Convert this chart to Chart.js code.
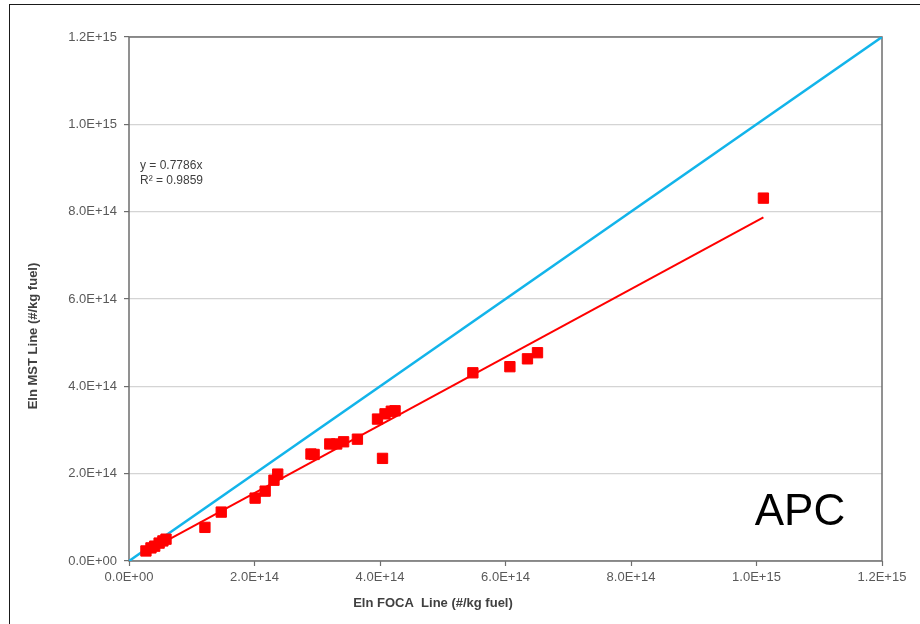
<!DOCTYPE html>
<html>
<head>
<meta charset="utf-8">
<script src="https://cdn.jsdelivr.net/npm/chart.js@4.4.1/dist/chart.umd.min.js"></script>
<style>
  html, body { margin: 0; padding: 0; background: #ffffff; }
  #wrap { width: 920px; height: 624px; position: relative; }
</style>
</head>
<body>
<div id="wrap"><canvas id="c" width="920" height="624"></canvas></div>
<script>
// Particle emission index: FOCA line (x) versus MST line (y), #/kg fuel
const focaLine = [
  0.27e14, 0.35e14, 0.41e14, 0.48e14, 0.54e14, 0.59e14,
  1.21e14, 1.47e14, 2.01e14, 2.17e14, 2.31e14, 2.37e14,
  2.90e14, 2.95e14, 3.20e14, 3.31e14, 3.42e14, 3.64e14,
  4.04e14, 3.96e14, 4.08e14, 4.18e14, 4.24e14,
  5.48e14, 6.07e14, 6.35e14, 6.51e14, 10.11e14
];
const mstLine = [
  0.23e14, 0.30e14, 0.34e14, 0.41e14, 0.46e14, 0.50e14,
  0.77e14, 1.12e14, 1.44e14, 1.60e14, 1.85e14, 1.99e14,
  2.45e14, 2.44e14, 2.68e14, 2.68e14, 2.73e14, 2.79e14,
  2.35e14, 3.25e14, 3.37e14, 3.43e14, 3.44e14,
  4.31e14, 4.45e14, 4.63e14, 4.77e14, 8.31e14
];

// Zero-intercept linear fit and its statistics
const fitSlope = 0.7786;
const fitR2 = 0.9859;

// Axis ticks
const xTickValues = [0, 2e14, 4e14, 6e14, 8e14, 10e14, 12e14];
const xTickLabels = ['0.0E+00', '2.0E+14', '4.0E+14', '6.0E+14', '8.0E+14', '1.0E+15', '1.2E+15'];
const yTickValues = [0, 2e14, 4e14, 6e14, 8e14, 10e14, 12e14];
const yTickLabels = ['0.0E+00', '2.0E+14', '4.0E+14', '6.0E+14', '8.0E+14', '1.0E+15', '1.2E+15'];

const axisMax = 1.2e15;
const xTitle = 'Eln FOCA  Line (#/kg fuel)';
const yTitle = 'Eln MST Line (#/kg fuel)';
const panelLabel = 'APC';

const scatterPoints = focaLine.map((x, i) => ({ x: x, y: mstLine[i] }));
const xMin = Math.min(...focaLine);
const xMax = Math.max(...focaLine);
const fitPoints = [
  { x: xMin, y: fitSlope * xMin },
  { x: xMax, y: fitSlope * xMax }
];
const identityPoints = [{ x: 0, y: 0 }, { x: axisMax, y: axisMax }];

const FONT = '"Liberation Sans", Arial, sans-serif';
const FRAME = '#6e6e6e';
const TICK_TEXT = '#595959';

const decorPlugin = {
  id: 'decor',
  beforeDraw(chart) {
    const ctx = chart.ctx;
    ctx.save();
    ctx.fillStyle = '#ffffff';
    ctx.fillRect(0, 0, chart.width, chart.height);
    // outer chart border (runs off the right and bottom edges)
    ctx.strokeStyle = '#1a1a1a';
    ctx.lineWidth = 1;
    ctx.strokeRect(9.5, 4.5, chart.width + 20, chart.height + 20);
    ctx.restore();
  },
  beforeDatasetsDraw(chart) {
    const ctx = chart.ctx;
    const a = chart.chartArea;
    ctx.save();
    ctx.strokeStyle = FRAME;
    ctx.lineWidth = 1.5;
    ctx.strokeRect(a.left, a.top, a.right - a.left, a.bottom - a.top);
    ctx.restore();
  },
  afterDraw(chart) {
    const ctx = chart.ctx;
    ctx.save();
    // axis titles
    ctx.fillStyle = '#404040';
    ctx.font = 'bold 13px ' + FONT;
    ctx.textAlign = 'center';
    ctx.textBaseline = 'middle';
    ctx.fillText(xTitle, 433, 603);
    ctx.save();
    ctx.translate(33, 336);
    ctx.rotate(-Math.PI / 2);
    ctx.fillText(yTitle, 0, 0);
    ctx.restore();
    // trendline equation
    ctx.fillStyle = '#404040';
    ctx.font = '12px ' + FONT;
    ctx.textAlign = 'left';
    ctx.fillText('y = ' + fitSlope.toFixed(4) + 'x', 140, 166);
    ctx.fillText('R\u00B2 = ' + fitR2.toFixed(4), 140, 181);
    // panel label
    ctx.fillStyle = '#000000';
    ctx.font = '44px ' + FONT;
    ctx.textAlign = 'center';
    ctx.textBaseline = 'alphabetic';
    ctx.fillText(panelLabel, 800, 525);
    ctx.restore();
  }
};

new Chart(document.getElementById('c'), {
  type: 'scatter',
  data: {
    datasets: [
      {
        label: 'Linear fit',
        type: 'line',
        data: fitPoints,
        borderColor: '#ff0000',
        borderWidth: 2,
        pointRadius: 0,
        fill: false,
        order: 0
      },
      {
        label: 'EI',
        data: scatterPoints,
        pointStyle: 'rect',
        pointRadius: 7.3,
        pointHoverRadius: 7.3,
        backgroundColor: '#ff0000',
        borderColor: '#ff0000',
        borderWidth: 1,
        order: 1
      },
      {
        label: '1:1',
        type: 'line',
        data: identityPoints,
        borderColor: '#12b4ea',
        borderWidth: 2.5,
        pointRadius: 0,
        fill: false,
        order: 2
      }
    ]
  },
  options: {
    responsive: false,
    animation: false,
    events: [],
    layout: { padding: { left: 0, top: 37, right: 38, bottom: 0 } },
    plugins: {
      legend: { display: false },
      tooltip: { enabled: false },
      title: { display: false }
    },
    scales: {
      x: {
        type: 'linear',
        min: 0,
        max: axisMax,
        afterBuildTicks: (s) => { s.ticks = xTickValues.map(v => ({ value: v })); },
        afterFit: (s) => { s.height = 63; },
        ticks: {
          callback: (v, i) => xTickLabels[i],
          font: { family: FONT, size: 13 },
          color: TICK_TEXT,
          padding: 4,
          maxRotation: 0,
          autoSkip: false
        },
        grid: { drawOnChartArea: false, drawTicks: true, tickLength: 5, tickColor: FRAME, tickWidth: 1.2 },
        border: { display: false }
      },
      y: {
        type: 'linear',
        min: 0,
        max: axisMax,
        afterBuildTicks: (s) => { s.ticks = yTickValues.map(v => ({ value: v })); },
        afterFit: (s) => { s.width = 129; },
        ticks: {
          callback: (v, i) => yTickLabels[i],
          font: { family: FONT, size: 13 },
          color: TICK_TEXT,
          padding: 7,
          autoSkip: false
        },
        grid: { color: '#d4d4d4', lineWidth: 1.2, drawTicks: true, tickLength: 5, tickColor: FRAME, tickWidth: 1.2 },
        border: { display: false }
      }
    }
  },
  plugins: [decorPlugin]
});
</script>
</body>
</html>
